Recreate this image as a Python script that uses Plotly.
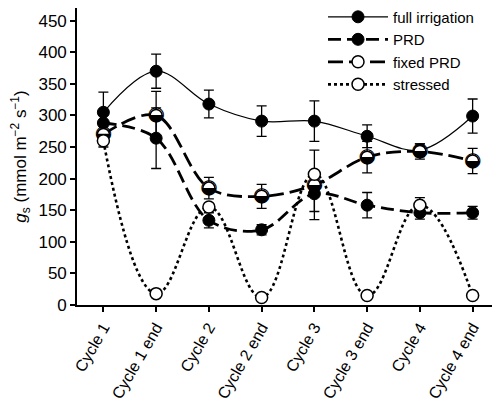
import plotly.graph_objects as go

categories = ["Cycle 1", "Cycle 1 end", "Cycle 2", "Cycle 2 end",
              "Cycle 3", "Cycle 3 end", "Cycle 4", "Cycle 4 end"]

full_irrigation = [305, 370, 318, 291, 291, 267, 245, 299]
full_irrigation_err = [32, 27, 22, 24, 32, 18, 10, 27]

prd = [288, 264, 134, 119, 176, 158, 146, 146]
prd_err = [15, 48, 12, 8, 28, 20, 10, 10]

fixed_prd = [270, 300, 185, 172, 190, 234, 243, 228]
fixed_prd_err = [5, 38, 17, 19, 55, 25, 12, 20]

stressed = [260, 18, 155, 12, 207, 15, 158, 15]
stressed_err = [10, 0, 0, 0, 0, 0, 12, 0]

y_ticks = [0, 50, 100, 150, 200, 250, 300, 350, 400, 450]

x = list(range(len(categories)))
FONT = "Liberation Sans, Arial, sans-serif"

def err(arr):
    return dict(type="data", array=arr, visible=True, color="black",
                thickness=1.3, width=5)

fig = go.Figure()

fig.add_trace(go.Scatter(
    x=x, y=full_irrigation, name="full irrigation", mode="lines+markers",
    line=dict(color="black", width=1.2, shape="spline", smoothing=1.0),
    marker=dict(symbol="circle", size=12, color="black",
                line=dict(color="black", width=1)),
    error_y=err(full_irrigation_err)))

fig.add_trace(go.Scatter(
    x=x, y=prd, name="PRD", mode="lines+markers",
    line=dict(color="black", width=2.8, dash="13px,6px", shape="spline", smoothing=1.0),
    marker=dict(symbol="circle", size=12, color="black",
                line=dict(color="black", width=1)),
    error_y=err(prd_err)))

fig.add_trace(go.Scatter(
    x=x, y=fixed_prd, name="fixed PRD", mode="lines+markers",
    line=dict(color="black", width=2.8, dash="15px,6px", shape="spline", smoothing=1.0),
    marker=dict(symbol="circle", size=12, color="white",
                line=dict(color="black", width=1.5)),
    error_y=err(fixed_prd_err)))

fig.add_trace(go.Scatter(
    x=x, y=fixed_prd, mode="text", text=["\u25D2"] * len(x),
    textposition="middle center", showlegend=False, hoverinfo="skip",
    cliponaxis=False,
    textfont=dict(family="DejaVu Sans", size=20, color="black")))

fig.add_trace(go.Scatter(
    x=x, y=stressed, name="stressed", mode="lines+markers",
    line=dict(color="black", width=2.6, dash="dot", shape="spline", smoothing=1.2),
    marker=dict(symbol="circle", size=12, color="white",
                line=dict(color="black", width=1.5)),
    error_y=err(stressed_err)))

fig.update_layout(
    width=500, height=406,
    margin=dict(l=69, r=9, t=0, b=109, autoexpand=False),
    paper_bgcolor="white", plot_bgcolor="white",
    font=dict(family=FONT, size=16, color="black"),
    showlegend=True,
    legend=dict(x=0.583, y=1.025, xanchor="left", yanchor="top",
                bgcolor="rgba(0,0,0,0)", borderwidth=0,
                font=dict(family=FONT, size=15, color="black"),
                itemwidth=60, tracegroupgap=0),
    xaxis=dict(range=[-0.5, 7.5], tickmode="array", tickvals=x,
               ticktext=categories, tickangle=-60, automargin=False,
               showline=True, linecolor="black", linewidth=1.6, mirror=True,
               ticks="outside", ticklen=5, tickwidth=1.5, tickcolor="black",
               showgrid=False, zeroline=False,
               tickfont=dict(family=FONT, size=16)),
    yaxis=dict(range=[0, 470], tickmode="array", tickvals=y_ticks,
               automargin=False,
               showline=True, linecolor="black", linewidth=1.6, mirror=True,
               ticks="outside", ticklen=5, tickwidth=1.5, tickcolor="black",
               showgrid=False, zeroline=False,
               tickfont=dict(family=FONT, size=17),
               title=dict(text="<i>g</i><sub>s</sub> (mmol m<sup>\u22122</sup> s<sup>\u22121</sup>)",
                          font=dict(family=FONT, size=17), standoff=9)),
)

fig.write_html("out.html")
